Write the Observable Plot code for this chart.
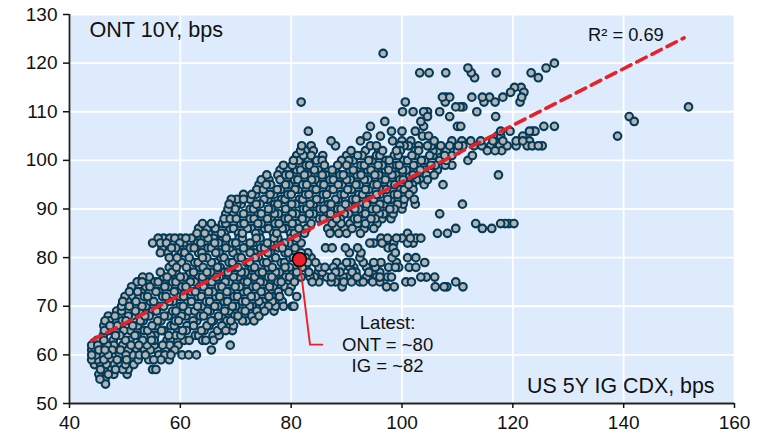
<!DOCTYPE html>
<html><head><meta charset="utf-8">
<script src="https://cdn.jsdelivr.net/npm/d3@7"></script>
<script src="https://cdn.jsdelivr.net/npm/@observablehq/plot@0.6"></script>
<style>html,body{margin:0;padding:0;background:#fff}svg{display:block}</style>
</head><body><div id="c"></div>
<script>
const xTicks=[40,60,80,100,120,140,160];
const yTicks=[50,60,70,80,90,100,110,120,130];
// ONT 10Y level (integer bps) -> list of US 5Y IG CDX readings
const rows=[
[54,[46.5]],
[55,[45.5,46.4]],
[56,[45.3,47,48,50.4]],
[57,[45.6,46.5,47.6,48.3,49.6,50.6,55,55.6]],
[58,[44.5,45.6,46.7,48.1,49.2,50.1,51.6]],
[59,[44,45,46.2,47.4,48.6,50.3,51.2,52.4,54.3,55.2,56.5,58]],
[60,[44,44.8,45.7,47,49,50.2,51.4,52.6,53.7,56.1,57.2,58.3,60.3,61.5,62.9]],
[61,[44,45.3,46.4,47.7,49.2,50.6,52.1,53.5,54.6,55.9,57.3,59,65.6]],
[62,[44,45.1,46.8,48,49.6,51.1,52.5,54,55.3,56.8,58.1,59.6,69]],
[63,[45,46.2,47.9,50.1,50.9,53.2,54.8,55.3,57.6,58.2,60.7,61.6,64,64.6,66]],
[64,[46.1,48.3,49.1,51.8,52.2,54.7,55.4,57.9,59.2,60.1,62.7,63.3,65.9,67]],
[65,[46.3,47.1,49.8,51,53.5,54.1,56.6,57,59.6,60.4,61.1,63.8,64.3,66.7,68.2,69.4]],
[66,[46.2,47.3,48.6,51.4,52.3,54.9,55.6,58.3,58.9,61.2,62.4,64.8,65.2,67.5,69.6]],
[67,[46.4,47.2,49.5,50.2,52.8,53.3,55.9,56.5,59.1,59.7,62.3,63,65.6,66,68.4,69.1,71.2,71.9,73.3]],
[68,[47,48.2,50.6,51.3,53.6,54.4,57.1,57.8,60.2,61,63.6,64.2,66.9,67.5,69.8,70.4,72.9,74.2]],
[69,[48.5,49.4,51.9,52.6,55,55.7,58.6,59.2,61.5,62.6,64.9,65.4,68,68.8,71.1,71.7,73.8,75.2,76.9]],
[70,[49.4,50.8,53.1,53.8,56.3,57,60,60.5,63.1,63.9,66.2,66.8,69.4,70,72.5,73,75,75.9,77.2,78.6,80.2,80.5]],
[71,[49.6,50.5,52,54.6,55.2,58,58.7,61.3,62,64.7,65.3,67.9,68.5,71.2,71.8,74.2,74.9,76.6,78.4]],
[72,[50,51.2,53.5,54.1,56.8,57.4,60,60.6,63.2,63.8,66.4,67.1,69.7,70.3,72.8,73.6,76,76.5,77.9,81]],
[73,[50.8,52.3,53,55.6,56.1,58.9,59.5,62,62.7,65.1,65.9,68.4,69,71.4,72.1,74.6,75.3,77.7,79.6]],
[74,[51.2,53.8,54.5,57.2,57.8,60.3,61,63.5,64.2,66.9,67.5,69.9,70.7,73.1,73.7,76.1,76.8,78.9,80,89.2,97.2,98.6,106,107.6,108.1,111]],
[75,[52.2,53.1,55.4,56,58.6,59.2,61.8,62.6,65.1,65.7,68.1,68.8,71.5,72.1,74.4,75,77.6,78.2,80.6,83.8,85,87.2,88,89.5,90.9,92.4,93,94.7,96,100.7,101.7,109.7]],
[76,[53.2,54.4,57,57.6,60,60.7,63.3,64,66.5,67.1,69.6,70.4,72.8,73.4,75.9,76.5,79,79.7,81.8,83.4,84.2,86.4,87.3,89.4,90.2,91.9,93.6,95.4,96,97.4,98.1,103.4,104.4,105.9]],
[77,[56.4,58.5,59.2,61.7,62.4,64.8,65.5,68,68.6,71,71.7,74.2,74.8,77.2,77.9,80.3,81,83.2,84.9,85.6,88,88.8,91,91.7,94,94.7,96]],
[78,[58,59.3,61.1,63.5,64.1,66.7,67.2,69.7,70.4,72.9,73.4,75.9,76.6,78.9,79.7,82,82.6,85,86.1,87.6,89.1,90.6,91.3,93.6,95.2,97.6,98.8,99.4,101.3,102.5]],
[79,[58.6,60.2,62.6,63.2,65.6,66.3,68.8,69.4,72,72.5,75,75.6,78.2,78.8,81.2,83,84.4,88.2,90,90.8,93,94.9,96.2,99,104.1]],
[80,[58,59.4,61.6,64,64.8,67.3,67.9,70.4,71,73.5,74.1,76.6,77.2,79.8,80.4,82.6,83.6,92.4,98.2,101,102.5]],
[81,[56.4,57.8,60.2,60.8,63.3,63.9,66.4,67,69.5,70.2,72.6,73.3,75.8,76.3,78.9,79.5,81.8,83,90.5,92.6,98.8]],
[82,[56.7,58.4,59.2,61.8,62.5,65,65.6,68.2,68.9,71.4,72,74.5,75.2,77.7,78.4,80.7,86.2,87.4,89.8,92,97.5,98.4]],
[83,[55,56.4,57.5,59.9,60.6,63.1,63.7,66.2,66.9,69.4,70,72.6,73.1,75.7,76.3,78.8,79.6,81.8,94.2,94.9,96.4,98.5,101,102]],
[84,[56,57,58.1,59,60,61,62,63,64,65,66,67.6,68.3,70.6,71.2,73.7,74.4,76.9,77.6,80,81,96.2,97.4,99,100,101.5,102.5,103.4]],
[85,[63,64.4,65.1,67.4,68,70.5,71.2,73.6,74.2,76.8,77.4,79.9,80.6,82.4,87,88.6,90,92.5,101,106.4,108.2]],
[86,[63.3,64.8,66.3,69,69.6,72.1,72.8,75.2,75.9,78.4,79,81.4,82.8,86.6,88.2,89.6,91,93.2,94.9,109.7,114.5,116.2]],
[87,[64,65.6,67.6,68.2,70.9,71.5,74,74.6,77.1,77.8,80.2,81,83.6,87.4,89,90.6,92,93.4,95.5,113.3,117.8,118.6,119.3,120.2]],
[88,[67.9,69,70.1,72.6,73.3,75.7,76.4,78.9,79.5,82,82.7,85.1,85.8,88.2,88.9,91.4,92,94.4,95.2,96.4,98]],
[89,[68.2,69.6,71.4,74,74.6,77,77.7,80.2,80.9,83.3,84,86.5,87.1,89.6,90.4,92.8,93.4,95.9,96.7,98.4,106.8]],
[90,[68.6,69.9,72.6,73.2,75.9,76.4,79,79.5,82.2,82.8,85.2,85.9,88.4,89,91.5,92.2,94.6,95.4,97.8,98.6,100]],
[91,[68.8,70.2,71,73.7,74.4,77,77.6,80.1,80.8,83.4,84,86.7,87.2,89.8,90.3,92.9,93.6,96,96.7,99.2,100.2,102.4,110.9]],
[92,[69.2,70.2,71.4,72.6,75.1,75.8,78.3,78.9,81.5,82.1,84.6,85.3,88,88.5,91.1,91.7,94.2,94.9,97.4,98,100.4,102.2]],
[93,[71.4,72.9,73.6,76.2,76.9,79.4,80,82.6,83.2,85.8,86.4,89,89.6,92.2,92.9,95.4,96,98.6,99.2,101.3]],
[94,[73.8,75,77.5,78.1,80.7,81.3,83.9,84.5,87,87.6,90.2,90.9,93.4,94,96.6,97.2,99.7,100.4,102]],
[95,[74.2,75.5,76.3,79,79.6,82.1,82.8,85.3,85.9,88.5,89.2,91.7,92.3,94.9,95.5,98,98.7,101.2,101.9,104,107.4]],
[96,[74.6,76,78,80.6,81.2,83.7,84.4,87,87.6,90,90.7,93.2,93.9,96.4,97,99.6,100.2,102.6,103.3,104.6]],
[97,[75.6,77.6,79,79.7,82.4,83,85.6,86.2,88.8,89.4,91.9,92.6,95.1,95.8,98.2,98.9,101.4,102,104.4,105.8,117.4]],
[98,[78,79.4,81,81.7,84.2,84.9,87.4,88,90.6,91.2,93.8,94.4,97,97.6,100.1,100.8,103.3,104,106.4]],
[99,[78.6,80.2,82.7,83.3,86,88.4,90,92.6,93.2,95.7,96.4,99,99.5,102.1,102.8,105.2,106,107.8,109]],
[100,[80.4,81.4,83,84.6,85.6,89.1,90.4,91.2,94,94.6,97.1,97.7,100.3,101,103.5,104.1,106.8,108,111.9]],
[101,[81,82.2,83.6,85.7,90,92,92.8,95.4,96,98.6,99.3,101.8,102.4,105,105.6,107.7,109,112.7]],
[102,[81.7,82.6,84,90.8,93.4,95.8,96.5,99,99.7,102.4,103,105.6,106.4,108,110,115.4,116.8,118]],
[103,[81.9,83.6,88,94.3,95.4,99.6,100.4,101.2,103,104.6,105.3,107,108.6,110.2,111,113,114.4,116,117.6,119,120.6,122.6,123.5,124.6,125.3]],
[104,[87.2,92.5,98.3,100,101.6,105.8,109,110.8,112.4,114.2,116.4,118.2,120.6,121.8,123]],
[105,[93.7,96.1,103.7,104.8,117.2,117.8,121.8,138.9]],
[106,[83.1,98.1,100,102.4,117.8,119.5,123,123.6,124]],
[107,[94.3,103.9,110,110.6,125.6,127.5]],
[108,[96.9,103.4,141.9]],
[109,[104.6,108.6,116.9,141]],
[110,[100.1,102,103.9,104.6,106.8,113.5]],
[111,[109.7,110.5,111,151.7]],
[112,[81.8,100.6,107.8,114.8,116.8,121.3]],
[113,[107.3,107.9,108.6,112.6,114.5,115.8,118.2,121.6]],
[114,[119.6,122]],
[115,[120.3,121.5]],
[117,[113.1,124.6]],
[118,[103.2,104.9,107.9,112.5,117,123.3]],
[119,[111.9,126]],
[120,[127.5]],
[122,[96.6]]
];
const regX=[44,150.9];
const regY=[63,125.2];
const latestX=[81.5];
const latestY=[79.6];
const leaderX=[81.5,83.4,85.6];
const leaderY=[79.6,62.1,62.1];
const noteLines=["Latest:","ONT = ~80","IG = ~82"];
const noteY=[66.5,62.1,57.6];

// the points keep their values; only the painting order is mixed so that overlaps do not stack row by row
const pts=rows.flatMap(([y,xs])=>xs.map(x=>({x,y})))
  .map(d=>({...d,o:(d.x*13.7+d.y*5.3)%1}))
  .sort((a,b)=>a.o-b.o);
const font="'Liberation Sans',Arial,sans-serif";
const plot=Plot.plot({
  width:774,height:445,marginLeft:69,marginRight:40,marginTop:14,marginBottom:42,
  style:{fontFamily:font,background:"#fff",color:"#111"},
  x:{domain:[40,160],label:null},
  y:{domain:[50,130],label:null},
  marks:[
    Plot.frame({fill:"#deebfd",stroke:null}),
    Plot.gridX(xTicks,{stroke:"#fff",strokeOpacity:1,strokeWidth:1.8}),
    Plot.gridY(yTicks,{stroke:"#fff",strokeOpacity:1,strokeWidth:1.8}),
    Plot.dot(pts,{x:"x",y:"y",r:3.8,fill:"#b3b3b3",stroke:"#023a57",strokeWidth:2.1}),
    Plot.line(regX.map((x,i)=>({x,y:regY[i]})),{x:"x",y:"y",stroke:"#e8202a",strokeWidth:3.6,strokeDasharray:"10.5,6.5"}),
    Plot.line(leaderX.map((x,i)=>({x,y:leaderY[i]})),{x:"x",y:"y",stroke:"#e8202a",strokeWidth:1.9}),
    Plot.dot(latestX.map((x,i)=>({x,y:latestY[i]})),{x:"x",y:"y",r:7,fill:"#e8202a",stroke:"#000",strokeWidth:1.5}),
    Plot.ruleX([40],{stroke:"#222",strokeWidth:1.8}),
    Plot.ruleY([50],{stroke:"#222",strokeWidth:1.8}),
    Plot.axisX(xTicks,{tickSize:5,tickPadding:7,fontSize:19,label:null,anchor:"bottom",stroke:"#111",strokeWidth:1.5}),
    Plot.axisY(yTicks,{tickSize:6,tickPadding:6,fontSize:19,label:null,anchor:"left",stroke:"#111",strokeWidth:1.5}),
    Plot.text(noteLines.map((t,i)=>({t,x:97.4,y:noteY[i]})),{x:"x",y:"y",text:"t",fontSize:18.5,fill:"#111"}),
    Plot.text([{t:"R² = 0.69",x:140.4,y:125.7}],{x:"x",y:"y",text:"t",fontSize:18.3,fill:"#111"}),
    Plot.text([{t:"ONT 10Y, bps",x:43.6,y:126.8}],{x:"x",y:"y",text:"t",textAnchor:"start",fontSize:21.6,fill:"#111"}),
    Plot.text([{t:"US 5Y IG CDX, bps",x:156.4,y:53.5}],{x:"x",y:"y",text:"t",textAnchor:"end",fontSize:21.4,fill:"#111"})
  ]
});
document.getElementById("c").appendChild(plot);
</script></body></html>
